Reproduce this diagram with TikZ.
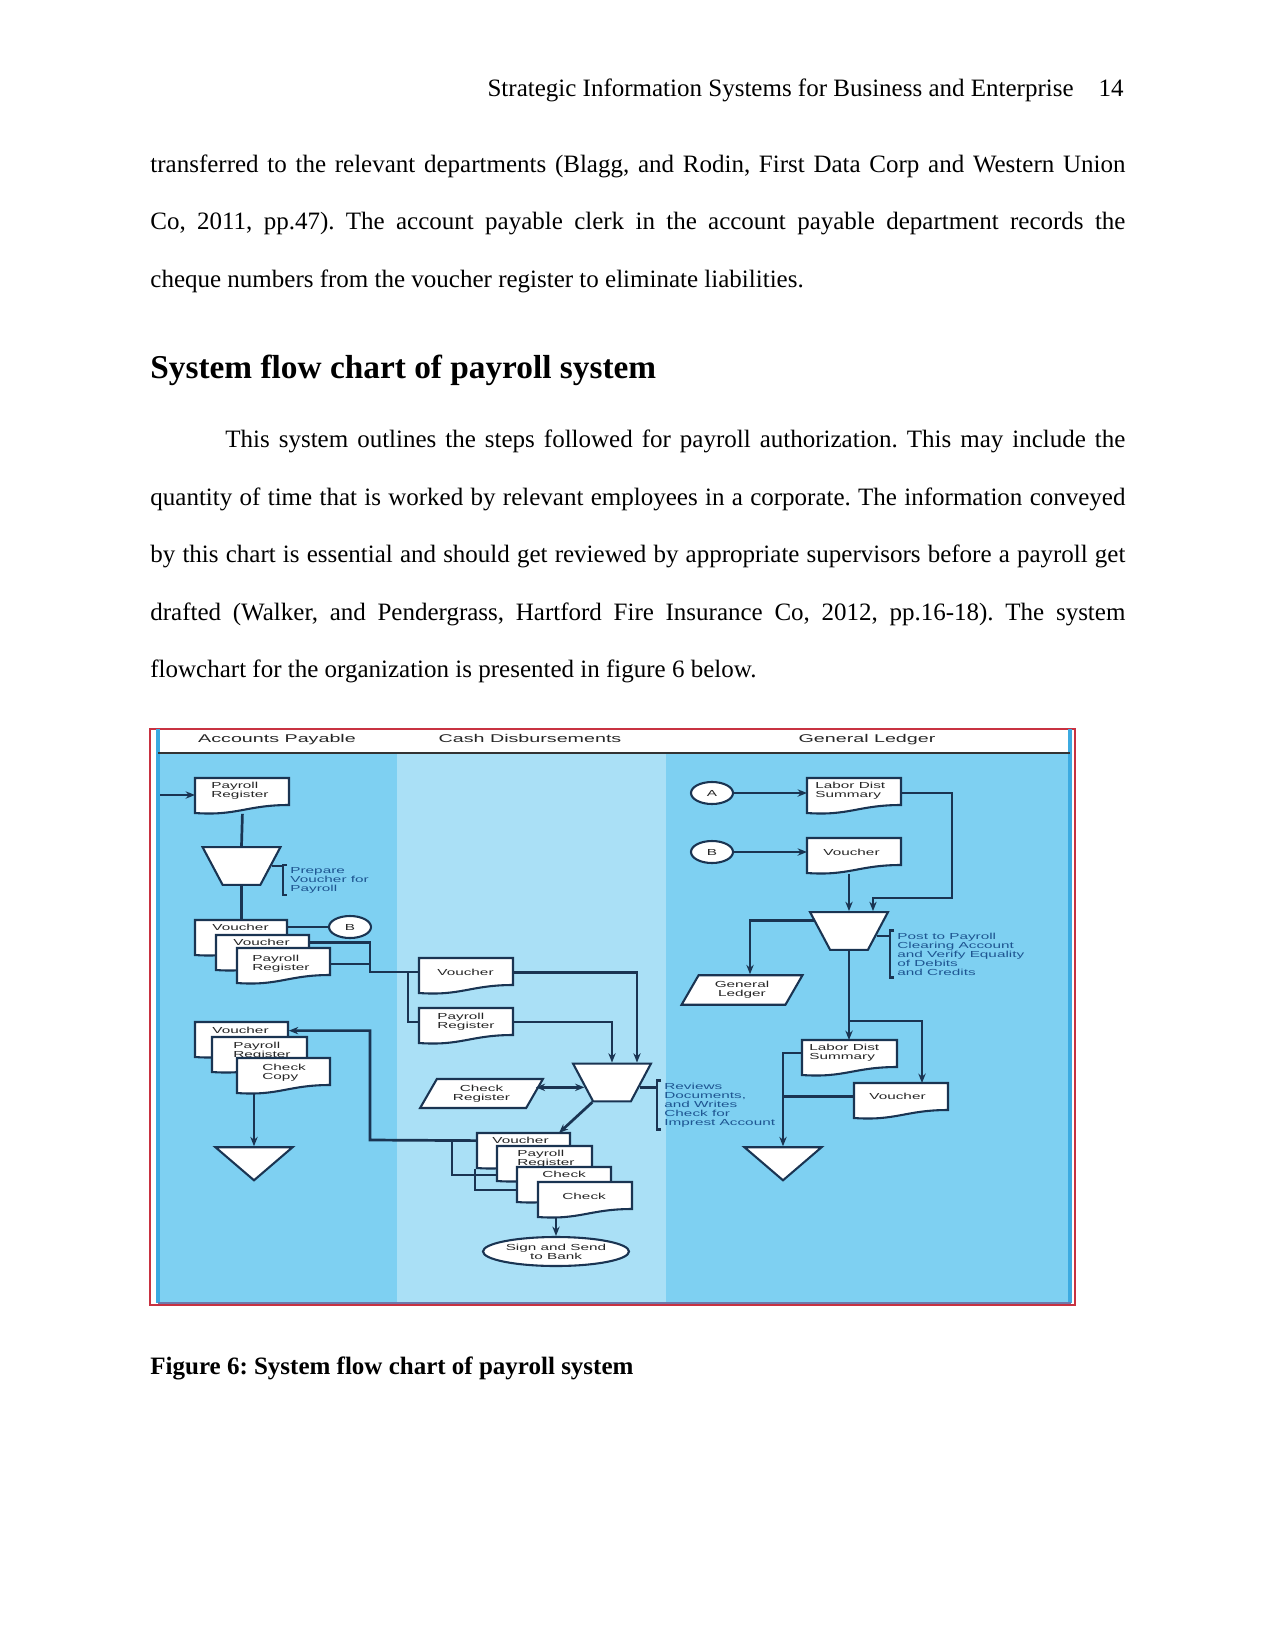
\documentclass[tikz,border=0pt]{standalone}
\usepackage{fontspec}
\setmainfont{Liberation Serif}
\newfontfamily\figfont[FakeStretch=1.75]{Liberation Sans}
\usepackage{xcolor}
\usepackage{tikz}
\usetikzlibrary{arrows.meta,shapes.geometric}
\frenchspacing

\definecolor{lanedark}{RGB}{126,208,242}
\definecolor{lanelight}{RGB}{170,224,246}
\definecolor{flowline}{RGB}{26,52,82}
\definecolor{notetext}{RGB}{30,85,145}
\definecolor{framered}{RGB}{200,50,65}
\definecolor{edgeblue}{RGB}{60,170,225}
\definecolor{slate}{RGB}{110,120,170}

\newcommand\px{0.48pt}

% document symbol: name, left x, top y, width, text x offset, text y offset, text
\newcommand\docsym[7]{%
  \path[docline] (#2,#3) -- ({#2+#4},#3) -- ({#2+#4},{#3+27})
    .. controls ({#2+0.55*#4},{#3+27}) and ({#2+0.45*#4},{#3+38}) .. (#2,{#3+35}) -- cycle;
  \node[docarea, minimum width=#4*\px, anchor=north west] (#1) at (#2,#3) {};
  \node[doctext] (#1-t) at ({#2+#5},{#3+#6}) {#7};
}

\begin{document}
\begin{tikzpicture}[x=0.48pt, y=-0.48pt,
    body/.style={anchor=base west, inner sep=0, font=\fontsize{12}{14}\selectfont},
    head/.style={anchor=base west, inner sep=0, font=\fontsize{16}{18}\selectfont\bfseries},
    capt/.style={anchor=base west, inner sep=0, font=\fontsize{12}{14}\selectfont\bfseries},
    lanehead/.style={anchor=base, inner sep=0, font=\figfont\fontsize{5.4}{6}\selectfont, text=black!85},
    docline/.style={draw=flowline, fill=white, line width=1pt},
    docarea/.style={rectangle, inner sep=0, minimum height=35*\px},
    doctext/.style={anchor=north west, inner sep=0, align=left,
                    font=\figfont\fontsize{4.2}{4.3}\selectfont, text=black!85},
    shapetext/.style={font=\figfont\fontsize{4.2}{4.3}\selectfont, text=black!85, align=center},
    offref/.style={ellipse, draw=flowline, fill=white, line width=1pt, inner sep=0,
                   minimum width=42*\px, minimum height=22*\px, shapetext},
    manual/.style={trapezium, trapezium angle=62, shape border rotate=180,
                   minimum width=78*\px, minimum height=32*\px,
                   inner sep=0.5pt, draw=flowline, fill=white, line width=1pt},
    ledger/.style={trapezium, trapezium left angle=60, trapezium right angle=120,
                   minimum width=121*\px, minimum height=29*\px,
                   inner sep=0.5pt, draw=flowline, fill=white, line width=1pt, shapetext},
    offline/.style={isosceles triangle, shape border rotate=-90, isosceles triangle stretches,
                    minimum width=77*\px, minimum height=33*\px, inner sep=0.5pt,
                    draw=flowline, fill=white, line width=1pt},
    terminal/.style={ellipse, draw=flowline, fill=white, line width=1pt, inner sep=0,
                     minimum width=146*\px, minimum height=29*\px, shapetext},
    note/.style={anchor=west, align=left, inner xsep=7*\px, inner ysep=2*\px,
                 font=\figfont\fontsize{4.2}{4.3}\selectfont, text=notetext},
    brk/.style={draw=flowline, line width=1.1pt},
    flow/.style={draw=flowline, line width=1.3pt},
    arr/.style={flow, -{Stealth[length=4.5pt, width=3.5pt]}},
    dbl/.style={flow, {Stealth[length=4.5pt, width=3.5pt]}-{Stealth[length=4.5pt, width=3.5pt]}},
]
\useasboundingbox (0,0) rectangle (1275,1651);

% running head
\node[body, anchor=base east] (runhead) at (1074,97) {Strategic Information Systems for Business and Enterprise};
\node[body, anchor=base east] (pageno) at (1124,97) {14};

% first paragraph (end)
\node[body] (p1a) at (150,173) {\makebox[468pt][s]{transferred to the relevant departments (Blagg, and Rodin, First Data Corp and Western Union}};
\node[body] (p1b) at (150,230) {\makebox[468pt][s]{Co, 2011, pp.47). The account payable clerk in the account payable department records the}};
\node[body] (p1c) at (150,287) {cheque numbers from the voucher register to eliminate liabilities.};

% heading
\node[head] (title) at (150,378) {System flow chart of payroll system};

% second paragraph
\node[body] (p2a) at (225,447) {\makebox[432pt][s]{This system outlines the steps followed for payroll authorization. This may include the}};
\node[body] (p2b) at (150,505) {\makebox[468pt][s]{quantity of time that is worked by relevant employees in a corporate. The information conveyed}};
\node[body] (p2c) at (150,562) {\makebox[468pt][s]{by this chart is essential and should get reviewed by appropriate supervisors before a payroll get}};
\node[body] (p2d) at (150,620) {\makebox[468pt][s]{drafted (Walker, and Pendergrass, Hartford Fire Insurance Co, 2012, pp.16-18). The system}};
\node[body] (p2e) at (150,677) {flowchart for the organization is presented in figure 6 below.};

% figure frame and swim lanes
\draw[framered, line width=0.7pt] (150,729) rectangle (1075,1305);
\fill[lanedark] (158,753) rectangle (397,1303);
\fill[lanelight] (397,753) rectangle (666,1303);
\fill[lanedark] (666,753) rectangle (1070,1303);
\draw[edgeblue, line width=1.5pt] (158,729) -- (158,1303);
\draw[edgeblue, line width=1.5pt] (1070,729) -- (1070,1303);
\draw[black!80, line width=0.7pt] (158,753) -- (1070,753);
\draw[slate, line width=1pt] (158,1303) -- (1071,1303);

\node[lanehead] (hAP) at (277,742) {Accounts Payable};
\node[lanehead] (hCD) at (530,742) {Cash Disbursements};
\node[lanehead] (hGL) at (867,742) {General Ledger};

% Accounts Payable lane
\coordinate (apIn) at (160,795);
\docsym{prAP}{195}{778}{94}{16}{4}{Payroll\\Register}
\node[manual] (prepAP) at (241.5,866) {};
\node[note] (notePrep) at (283,880) {Prepare\\Voucher for\\Payroll};

\docsym{vAP1}{195}{920}{92}{17}{4}{Voucher}
\docsym{vAP2}{216}{935}{93}{17}{4}{Voucher}
\docsym{prAP1}{237}{948}{93}{15}{7}{Payroll\\Register}
\node[offref] (bAP) at (350,927) {B};

\docsym{vAP3}{195}{1022}{93}{17}{5}{Voucher}
\docsym{prAP2}{212}{1037}{95}{21}{5}{Payroll\\Register}
\docsym{ckAP}{237}{1058}{93}{25}{6}{Check\\Copy}
\node[offline, anchor=apex] (fileAP) at (254,1183) {};

% Cash Disbursements lane
\docsym{vCD}{419}{958}{94}{18}{11}{Voucher}
\docsym{prCD}{419}{1008}{94}{18}{5}{Payroll\\Register}
\node[manual] (revCD) at (612,1082.5) {};
\node[ledger] (ckReg) at (481.5,1093.5) {Check\\Register};
\node[note] (noteRev) at (657,1105) {Reviews\\Documents,\\and Writes\\Check for\\Imprest Account};

\docsym{vCD3}{477}{1133}{93}{15}{4}{Voucher}
\docsym{prCD3}{497}{1146}{95}{20}{4}{Payroll\\Register}
\docsym{ckCD1}{517}{1167}{94}{25}{4}{Check}
\docsym{ckCD2}{538}{1182}{94}{24}{11}{Check}
\node[terminal] (bank) at (556,1251.5) {Sign and Send\\to Bank};

% General Ledger lane
\node[offref] (aGL) at (712,793) {A};
\node[offref] (bGL) at (712,852) {B};
\docsym{ldGL}{807}{778}{94}{8}{4}{Labor Dist\\Summary}
\docsym{vGL}{807}{838}{94}{16}{11}{Voucher}
\node[manual] (postGL) at (849,931) {};
\node[note] (notePost) at (890,954) {Post to Payroll\\Clearing Account\\and Verify Equality\\of Debits\\and Credits};
\node[ledger] (glGL) at (742,990) {General\\Ledger};
\docsym{ldGL2}{802}{1040}{95}{7}{4}{Labor Dist\\Summary}
\docsym{vGL2}{854}{1083}{94}{15}{10}{Voucher}
\node[offline, anchor=apex] (fileGL) at (783,1183) {};

% junctions
\coordinate (j1) at (370,972);
\coordinate (j2) at (408,972);
\coordinate (j3) at (370,1140);
\coordinate (j4) at (452,1140);
\coordinate (j5) at (452,1175);
\coordinate (j6) at (475,1190);
\coordinate (k1) at (952,898);
\coordinate (k2) at (922,1021);

% connectors: accounts payable
\draw[arr] (apIn) -- (apIn -| prAP.west);
\draw[flow] (prAP.south) -- (prepAP.north);
\draw[flow] (prepAP.south) -- (prepAP.south |- vAP1.north);
\draw[flow] (prepAP.east) -- (prepAP.east -| notePrep.west);
\draw[brk] ([xshift=4*\px]notePrep.north west) -- (notePrep.north west) -- (notePrep.south west) -- ([xshift=4*\px]notePrep.south west);
\draw[flow] (vAP1.east |- bAP) -- (bAP.west);
\draw[flow] (vAP2.east |- vAP2-t) -| (j1) -- (vCD.west |- j1);
\draw[flow] (prAP1.east |- prAP1-t) -- (prAP1-t -| j1);
\draw[flow] (j2) |- (prCD.west |- prCD-t);
\draw[arr] (ckAP.south -| fileAP) -- (fileAP.north);

% connectors: cash disbursements
\draw[arr] (vCD.east |- vCD-t) -| ([xshift=25*\px]revCD.north);
\draw[arr] (prCD.east |- prCD-t) -| (revCD.north);
\draw[dbl] (revCD.190) -- (revCD.190 -| ckReg.east);
\draw[arr] (revCD.south west) -- ([xshift=35*\px]vCD3.north);
\draw[flow] (revCD.-10) -- (revCD.-10 -| noteRev.west);
\draw[brk] ([xshift=4*\px]noteRev.north west) -- (noteRev.north west) -- (noteRev.south west) -- ([xshift=4*\px]noteRev.south west);
\draw[arr] (vCD3.west |- vCD3-t) -- (j3) |- (vAP3.east |- vAP3-t);
\draw[flow] (j4) -- (j5) -- (j5 -| prCD3.west);
\draw[flow] (j6 |- vCD3.south) -- (j6) -- (j6 -| ckCD1.west);
\draw[arr] (ckCD2.south -| bank) -- (bank.north);

% connectors: general ledger
\draw[arr] (aGL.east) -- (aGL.east -| ldGL.west);
\draw[arr] (bGL.east) -- (bGL.east -| vGL.west);
\draw[arr] (postGL.north |- vGL.south) -- (postGL.north);
\draw[arr] (ldGL.east |- aGL) -| (k1) -| ([xshift=24*\px]postGL.north);
\draw[arr] (postGL.164) -| ([xshift=8*\px]glGL.north);
\draw[flow] (postGL.-10) -- (postGL.-10 -| notePost.west);
\draw[brk] ([xshift=4*\px]notePost.north west) -- (notePost.north west) -- (notePost.south west) -- ([xshift=4*\px]notePost.south west);
\draw[arr] (postGL.south) -- (postGL.south |- ldGL2.north);
\draw[arr] (postGL.south |- k2) -| (k2 |- vGL2.north);
\draw[arr] (ldGL2.west |- ldGL2-t) -| (fileGL.north);
\draw[flow] (vGL2.west |- vGL2-t) -- (vGL2-t -| fileGL.north);

% caption
\node[capt] (caption) at (150,1374) {Figure 6: System flow chart of payroll system};
\end{tikzpicture}
\end{document}
